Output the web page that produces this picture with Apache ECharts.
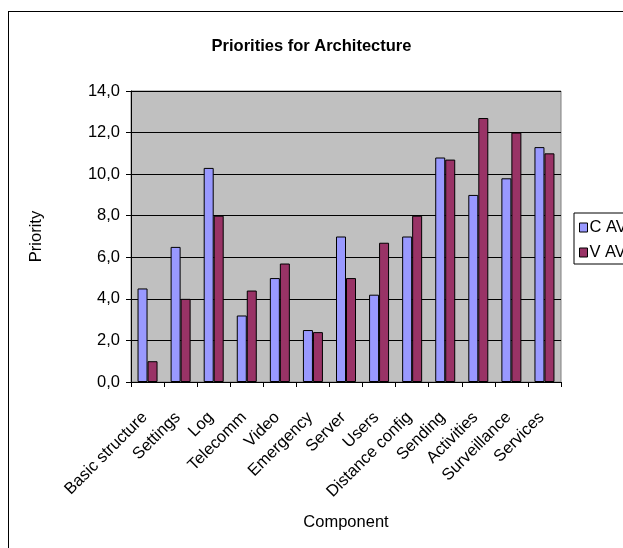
<!DOCTYPE html>
<html>
<head>
<meta charset="utf-8">
<script src="https://cdn.jsdelivr.net/npm/echarts@6/dist/echarts.min.js"></script>
<style>
html,body{margin:0;padding:0;background:#fff;overflow:hidden;}
#wrap{position:relative;width:623px;height:548px;overflow:hidden;}
#c{width:623px;height:548px;}
#frame{position:absolute;left:8px;top:11px;width:700px;height:700px;border:1px solid #000;pointer-events:none;box-sizing:border-box;}
</style>
</head>
<body>
<div id="wrap"><div id="c"></div><div id="frame"></div></div>
<script>
const categories = ["Basic structure","Settings","Log","Telecomm","Video","Emergency","Server","Users","Distance config","Sending","Activities","Surveillance","Services"];
const cAvg = [4.5, 6.5, 10.3, 3.2, 5.0, 2.5, 7.0, 4.2, 7.0, 10.8, 9.0, 9.8, 11.3];
const vAvg = [1.0, 4.0, 8.0, 4.4, 5.7, 2.4, 5.0, 6.7, 8.0, 10.7, 12.7, 12.0, 11.0];
const seriesNames = ["C AVG", "V AVG"];
const yTicks = {min: 0, max: 14, interval: 2};

const font = "'Liberation Sans', Arial, sans-serif";
const fs = 16.5;
const chart = echarts.init(document.getElementById('c'), null, {renderer: 'canvas'});
chart.setOption({
  animation: false,
  backgroundColor: '#fff',
  textStyle: {fontFamily: font},
  title: {
    text: 'Priorities for Architecture',
    left: 'center', top: 33,
    textStyle: {fontFamily: font, fontSize: fs, fontWeight: 'bold', color: '#000'}
  },
  legend: {
    orient: 'vertical', left: 574, top: 213,
    itemWidth: 8, itemHeight: 9, itemGap: 8,
    padding: [6, 6, 3, 5],
    borderColor: '#000', borderWidth: 1, backgroundColor: '#fff',
    icon: 'rect',
    itemStyle: {borderColor: '#000', borderWidth: 1},
    textStyle: {fontFamily: font, fontSize: fs, color: '#000', padding: [0, 0, 0, -3]},
    data: seriesNames
  },
  grid: {
    left: 131, right: 62, top: 91, bottom: 166,
    show: true, backgroundColor: '#C0C0C0', borderColor: '#808080', borderWidth: 1,
    containLabel: false
  },
  xAxis: {
    type: 'category', data: categories,
    name: 'Component', nameLocation: 'middle', nameGap: 132,
    nameTextStyle: {fontFamily: font, fontSize: fs, color: '#000'},
    axisLine: {lineStyle: {color: '#000', width: 1}},
    axisTick: {show: true, length: 5, lineStyle: {color: '#000'}},
    axisLabel: {rotate: 45, fontFamily: font, fontSize: fs, color: '#000', margin: 30,
      padding: [0, 4, 0, 0], interval: 0}
  },
  yAxis: {
    type: 'value', min: yTicks.min, max: yTicks.max, interval: yTicks.interval,
    name: 'Priority', nameLocation: 'middle', nameGap: 86,
    nameTextStyle: {fontFamily: font, fontSize: fs, color: '#000'},
    axisLine: {show: true, lineStyle: {color: '#000', width: 1}},
    axisTick: {show: true, length: 5, lineStyle: {color: '#000'}},
    axisLabel: {fontFamily: font, fontSize: fs, color: '#000', margin: 11,
      formatter: v => v.toFixed(1).replace('.', ',')},
    splitLine: {show: true, lineStyle: {color: '#000', width: 1}}
  },
  series: [
    {name: seriesNames[0], type: 'bar', data: cAvg, barWidth: 10, barGap: '0%',
     itemStyle: {color: '#9999FF', borderColor: '#000', borderWidth: 1}},
    {name: seriesNames[1], type: 'bar', data: vAvg, barWidth: 10, barGap: '0%',
     itemStyle: {color: '#993366', borderColor: '#000', borderWidth: 1}}
  ]
});
</script>
</body>
</html>
